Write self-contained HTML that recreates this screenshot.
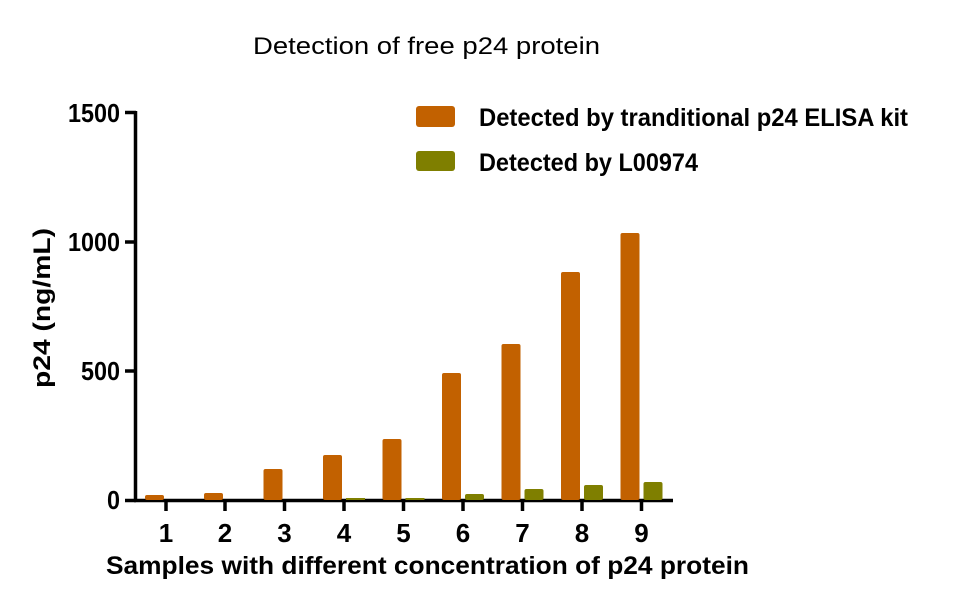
<!DOCTYPE html>
<html><head><meta charset="utf-8"><style>body{margin:0;background:#fff}svg{display:block}</style></head>
<body>
<svg width="970" height="599" viewBox="0 0 970 599" xmlns="http://www.w3.org/2000/svg" font-family="Liberation Sans, Arial, sans-serif">
<rect width="970" height="599" fill="#fff"/>
<text x="253" y="54" font-size="24" textLength="347" lengthAdjust="spacingAndGlyphs">Detection of free p24 protein</text>
<g stroke="#000" stroke-width="3.5" fill="none">
<line x1="135.5" y1="111" x2="135.5" y2="502"/>
<line x1="134" y1="500.5" x2="673" y2="500.5"/>
<line x1="125" y1="112.5" x2="136" y2="112.5"/>
<line x1="125" y1="242" x2="136" y2="242"/>
<line x1="125" y1="371" x2="136" y2="371"/>
<line x1="125" y1="500.5" x2="136" y2="500.5"/>
<line x1="166" y1="500" x2="166" y2="511"/>
<line x1="225" y1="500" x2="225" y2="511"/>
<line x1="284.5" y1="500" x2="284.5" y2="511"/>
<line x1="344" y1="500" x2="344" y2="511"/>
<line x1="403.5" y1="500" x2="403.5" y2="511"/>
<line x1="463" y1="500" x2="463" y2="511"/>
<line x1="522.5" y1="500" x2="522.5" y2="511"/>
<line x1="582" y1="500" x2="582" y2="511"/>
<line x1="641.5" y1="500" x2="641.5" y2="511"/>
</g>
<g font-size="26" font-weight="bold" lengthAdjust="spacingAndGlyphs">
<text x="68" y="122" textLength="52" lengthAdjust="spacingAndGlyphs">1500</text>
<text x="68" y="251" textLength="52" lengthAdjust="spacingAndGlyphs">1000</text>
<text x="81" y="380" textLength="39" lengthAdjust="spacingAndGlyphs">500</text>
<text x="107" y="509" textLength="13" lengthAdjust="spacingAndGlyphs">0</text>
</g>
<g font-size="26" font-weight="bold" text-anchor="middle">
<text x="166" y="542">1</text><text x="225" y="542">2</text><text x="284.5" y="542">3</text>
<text x="344" y="542">4</text><text x="403.5" y="542">5</text><text x="463" y="542">6</text>
<text x="522.5" y="542">7</text><text x="582" y="542">8</text><text x="641.5" y="542">9</text>
</g>
<text x="106" y="574" font-size="25" font-weight="bold" textLength="643" lengthAdjust="spacingAndGlyphs">Samples with different concentration of p24 protein</text>
<text transform="translate(50,308) rotate(-90)" font-size="24" font-weight="bold" text-anchor="middle" textLength="160" lengthAdjust="spacingAndGlyphs">p24 (ng/mL)</text>
<g fill="#c26100">
<rect x="145" y="495" width="19" height="5" rx="2"/>
<rect x="204" y="493" width="19" height="7" rx="2"/>
<rect x="263.5" y="469" width="19" height="31" rx="2"/>
<rect x="323" y="455" width="19" height="45" rx="2"/>
<rect x="382.5" y="439" width="19" height="61" rx="2"/>
<rect x="442" y="373" width="19" height="127" rx="2"/>
<rect x="501.5" y="344" width="19" height="156" rx="2"/>
<rect x="561" y="272" width="19" height="228" rx="2"/>
<rect x="620.5" y="233" width="19" height="267" rx="2"/>
</g>
<g fill="#7f7f00">
<rect x="346" y="498" width="19" height="2"/>
<rect x="405.5" y="498" width="19" height="2"/>
<rect x="465" y="494" width="19" height="6" rx="2"/>
<rect x="524.5" y="489" width="19" height="11" rx="2"/>
<rect x="584" y="485" width="19" height="15" rx="2"/>
<rect x="643.5" y="482" width="19" height="18" rx="2"/>
</g>
<rect x="416" y="106" width="39" height="21" rx="3" fill="#c26100"/>
<rect x="416" y="151" width="39" height="20" rx="3" fill="#7f7f00"/>
<g font-size="25" font-weight="bold">
<text x="479" y="126" textLength="429" lengthAdjust="spacingAndGlyphs">Detected by tranditional p24 ELISA kit</text>
<text x="479" y="171" textLength="219" lengthAdjust="spacingAndGlyphs">Detected by L00974</text>
</g>
</svg>
</body></html>
